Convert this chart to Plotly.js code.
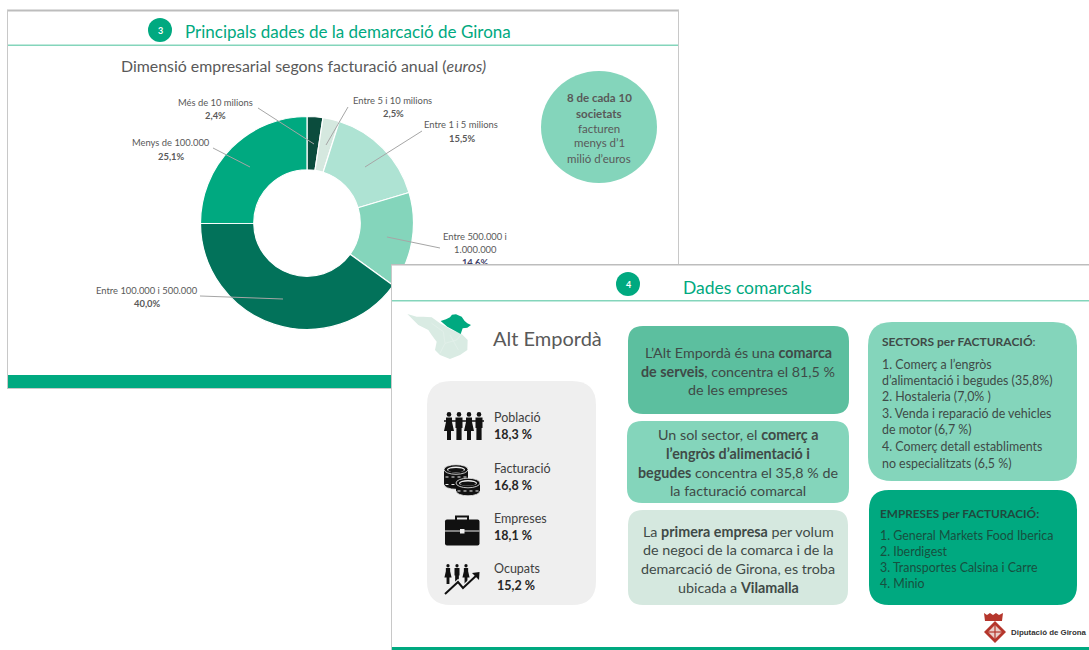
<!DOCTYPE html>
<html><head><meta charset="utf-8">
<script src="https://cdn.plot.ly/plotly-3.0.1.min.js"></script>
<style>html,body{margin:0;padding:0;background:#fff}#c{width:1089px;height:650px}</style></head>
<body><div id="c"></div>
<script>
// ---- data ----
const sliceLabels = ['Més de 10 milions','Entre 5 i 10 milions','Entre 1 i 5 milions','Entre 500.000 i 1.000.000','Entre 100.000 i 500.000','Menys de 100.000'];
const sliceValues = [2.4,2.5,15.5,14.6,40.0,25.1];
const sliceValueText = ['2,4%','2,5%','15,5%','14,6%','40,0%','25,1%'];
const sliceColors = ['#0b4c3d','#d5e8df','#aee3d3','#84d5bb','#02725a','#00a980'];
const statNames = ['Població','Facturació','Empreses','Ocupats'];
const statValues = ['18,3 %','16,8 %','18,1 %',' 15,2 %'];
const sectors = ['1. Comerç a l’engròs','d’alimentació i begudes (35,8%)','2. Hostaleria (7,0% )','3. Venda i reparació de vehicles','de motor (6,7 %)','4. Comerç detall establiments','no especialitzats (6,5 %)'];
const companies = ['1. General Markets Food Iberica','2. Iberdigest','3. Transportes Calsina i Carre','4. Minio'];

const W=1089,H=650,FONT='Lato, "Open Sans", sans-serif';
const px=x=>(x/W).toFixed(5), py=y=>(1-y/H).toFixed(5);
const GREEN='#00a980',MINT='#84d5bb',GREY='#595959';

// ---- helpers ----
const shapes=[],annotations=[];
function pathShape(d,fill,stroke,sw,dash){shapes.push({type:'path',xref:'paper',yref:'paper',path:d,fillcolor:fill||'rgba(0,0,0,0)',line:{color:stroke||'rgba(0,0,0,0)',width:sw||0,dash:dash||'solid'},layer:'above'});}
function M(x,y){return px(x)+','+py(y);}
function poly(pts,fill,stroke,sw,open,dash){pathShape('M'+pts.map(p=>M(p[0],p[1])).join(' L')+(open?'':' Z'),fill,stroke,sw,dash);}
function rect(x0,y0,x1,y1,fill){poly([[x0,y0],[x1,y0],[x1,y1],[x0,y1]],fill);}
function line(x0,y0,x1,y1,c,w){poly([[x0,y0],[x1,y1]],null,c,w,true);}
function rrect(x0,y0,x1,y1,r,fill){
  pathShape('M'+M(x0+r,y0)+' L'+M(x1-r,y0)+' Q'+M(x1,y0)+' '+M(x1,y0+r)+' L'+M(x1,y1-r)+' Q'+M(x1,y1)+' '+M(x1-r,y1)+' L'+M(x0+r,y1)+' Q'+M(x0,y1)+' '+M(x0,y1-r)+' L'+M(x0,y0+r)+' Q'+M(x0,y0)+' '+M(x0+r,y0)+' Z',fill);
}
function ell(cx,cy,rx,ry,fill,stroke,sw){shapes.push({type:'circle',xref:'paper',yref:'paper',x0:(cx-rx)/W,x1:(cx+rx)/W,y0:1-(cy+ry)/H,y1:1-(cy-ry)/H,fillcolor:fill,line:{color:stroke||'rgba(0,0,0,0)',width:sw||0},layer:'above'});}
function txt(x,y,t,size,anchor,color,family){annotations.push({xref:'paper',yref:'paper',x:x/W,y:1-y/H,text:t,showarrow:false,xanchor:anchor||'center',yanchor:'middle',align:anchor||'center',font:{size:size,color:color||GREY,family:family||FONT},borderpad:0,borderwidth:0});}

// ---- slide 3 frame (no fill: the doughnut lies below the shape layer) ----
rect(7,9.5,679,11.5,'#bdbdbd');
rect(7,10,8,388,'#c8c8c8');
rect(678,10,679,388,'#c8c8c8');
rect(7,388,679,389,'#c8c8c8');
rect(8,44.5,678,46,MINT);
rect(8,375,678,388,GREEN);
ell(160,30,12,12,GREEN);
txt(160,30.5,'<b>3</b>',9,'center','#ffffff');
txt(185,31,'Principals dades de la demarcació de Girona',17,'left',GREEN);
txt(121,65.5,'Dimensió empresarial segons facturació anual (<i>euros)</i>',15.9,'left',GREY);

// leader lines
[[258,108,314,144],[348,107,326,145],[422,131,365,167],[440,248,387,237],[200,296,283,299],[213,148,250,167]]
 .forEach(l=>line(l[0],l[1],l[2],l[3],'#a6a6a6',1));

// oval
ell(599,127,58,56,MINT);
[['<b>8 de cada 10</b>',97],['<b>societats</b>',113],['facturen',128],['menys d’1',143],['milió d’euros',158]]
 .forEach(a=>txt(599,a[1],a[0],11.5,'center',GREY));

// slice labels
const labelPos=[[215,103,215,116],[392,101,393,114],[461,125,462,138],[0,0,0,0],[147,291,147,304],[171,143,171,156]];
labelPos.forEach((p,i)=>{ if(i===3) return;
  txt(p[0],p[1],sliceLabels[i],9.4,'center',GREY);
  txt(p[2],p[3],'<b>'+sliceValueText[i]+'</b>',9.4,'center',GREY);
});
txt(475,236,'Entre 500.000 i',9.4,'center',GREY);
txt(475,249,'1.000.000',9.4,'center',GREY);
// this label is partly covered by slide 4, so it is a shape label drawn before the covering sheet
shapes.push({type:'rect',xref:'paper',yref:'paper',x0:455/W,x1:495/W,y0:1-268/H,y1:1-256/H,line:{width:0,color:'rgba(0,0,0,0)'},fillcolor:'rgba(0,0,0,0)',layer:'above',
  label:{text:'<b>'+sliceValueText[3]+'</b>',font:{size:9.4,color:'#3f3f6a',family:FONT},textposition:'middle center'}});

// ---- slide 4 frame ----
rect(391,265,1089,650,'#ffffff');
rect(391,264,1089,265.5,'#bdbdbd');
rect(391,265,392,650,'#c8c8c8');
rect(392,300,1089,301.5,MINT);
rect(392,647,1089,650,GREEN);
ell(628,284,12,12,GREEN);
txt(628,284.5,'<b>4</b>',9,'center','#ffffff');
txt(683,287,'Dades comarcals',17.5,'left',GREEN);

// map
const mp=(x,y)=>[390+x/3,260+y/3];
poly([[52,162],[80,170],[100,170],[125,172],[150,190],[165,198],[185,210],[215,222],[233,240],[232,270],[210,285],[180,297],[150,285],[135,270],[140,245],[125,225],[115,210],[85,195],[70,180]].map(p=>mp(p[0],p[1])),'#d9ebe3');
[[[125,190],[160,215],[165,250],[150,280]],[[165,250],[200,240],[215,222]],[[180,225],[205,270]]].forEach(l=>poly(l.map(p=>mp(p[0],p[1])),null,'#e6f2ec',0.6,true));
poly([[152,183],[168,178],[180,172],[186,164],[198,163],[215,170],[224,183],[232,190],[243,195],[232,203],[218,205],[212,222],[190,210],[172,200]].map(p=>mp(p[0],p[1])),GREEN);
txt(493,338,'Alt Empordà',20,'left',GREY);

// stats panel
rrect(427,381,596,605,24,'#efefef');
const statY=[417,468,518,568];
statNames.forEach((n,i)=>{
  txt(494,statY[i],n,12.5,'left','#404040');
  txt(494,statY[i]+17.5,'<b>'+statValues[i].trim()+'</b>',12.5,'left','#262626');
});
annotations[annotations.length-1].x=497/W;

// icons
const K='#111111';
function person(cx,top,h,skirt){
  const u=h/28;
  ell(cx,top+2.4*u,2.3*u,2.4*u,K);
  if(skirt){
    poly([[cx-3*u,top+5.5*u],[cx+3*u,top+5.5*u],[cx+3*u,top+10*u],[cx+5*u,top+19*u],[cx+2*u,top+19*u],[cx+2*u,top+28*u],[cx-2*u,top+28*u],[cx-2*u,top+19*u],[cx-5*u,top+19*u],[cx-3*u,top+10*u]],K);
  } else {
    poly([[cx-3.5*u,top+5.5*u],[cx+3.5*u,top+5.5*u],[cx+3.5*u,top+16*u],[cx+2.6*u,top+16*u],[cx+2.6*u,top+28*u],[cx-2.6*u,top+28*u],[cx-2.6*u,top+16*u],[cx-3.5*u,top+16*u]],K);
  }
}
[[449,1],[459,0],[469,1],[479,0]].forEach(p=>person(p[0],412,28,p[1]));
line(444,421,484,421,K,1.6);
// coin stacks
function coinStack(cx,cy,rx,ry,h,layers){
  ell(cx,cy+h,rx,ry,K,'#efefef',0.8);
  rect(cx-rx,cy,cx+rx,cy+h,K);
  for(let i=1;i<=layers;i++){ poly([[cx-rx+1.5,cy+i*h/layers],[cx+rx-1.5,cy+i*h/layers]],null,'#efefef',1,true,'dot'); }
  ell(cx,cy,rx,ry,K,'#efefef',0.8);
  ell(cx,cy,rx-3,ry-1.8,'#efefef');
  ell(cx,cy+0.6,rx-4,ry-2.6,K);
}
coinStack(456,469.5,12,4.8,15,2);
coinStack(468,483,12,4.8,8,1);
// briefcase
pathShape('M'+M(456,520)+' L'+M(456,516.5)+' L'+M(468,516.5)+' L'+M(468,520),null,K,2);
rrect(445,519.5,479.5,545.5,2,K);
rect(445,530.5,479.5,531.5,'#efefef');
rect(460,529,464.5,533.5,'#efefef');
// workers & arrow
[[448,1],[457,0],[466,1]].forEach(p=>person(p[0],564,20,p[1]));
poly([[445,594],[458,582],[463,588],[478,574]],null,'#efefef',4.5,true);
poly([[445,594],[458,582],[463,588],[478,574]],null,K,2,true);
poly([[479.5,572],[472,573],[479,580]],K);

// ---- text cards ----
rrect(628,326,849,414,15,'#5cbf9f');
rrect(627,421,849,503,15,MINT);
rrect(628,510,848,605,15,'#d5e8df');
rrect(868,322,1077,481,24,MINT);
rrect(869,490,1077,605,20,GREEN);
const C='#3f4a47',S=14.3;
[['L’Alt Empordà és una <b>comarca</b>',352],['<b>de serveis</b>, concentra el 81,5 %',371],['de les empreses',389],
 ['Un sol sector, el <b>comerç a</b>',434.5],['<b>l’engròs d’alimentació i</b>',453],['<b>begudes</b> concentra el 35,8 % de',472],['la facturació comarcal',490],
 ['La <b>primera empresa</b> per volum',531],['de negoci de la comarca i de la',549],['demarcació de Girona, es troba',568],['ubicada a <b>Vilamalla</b>',587]]
 .forEach(a=>txt(738,a[1],a[0],S,'center',C));
txt(882,341,'<b>SECTORS per FACTURACIÓ</b>:',12,'left',C);
const secY=[364,380,396,413,429,446,463];
sectors.forEach((t,i)=>txt(882,secY[i],t,12.4,'left',C));
txt(880,513,'<b>EMPRESES per FACTURACIÓ:</b>',11.8,'left','#1f4a3e');
const comY=[535,551,567,583];
companies.forEach((t,i)=>txt(880,comY[i],t,12.4,'left','#17503f'));

// logo
const R='#b5362c';
poly([[995,621],[1006,632],[995,643],[984,632]],R);
poly([[995,625],[1002,632],[995,639],[988,632]],'#e9cfc9');
line(995,625,995,639,R,1.2);
line(988,632,1002,632,R,1.2);
poly([[984,613],[987,615],[990,613],[993,615],[996,613],[999,615],[1003,613],[1002,621],[985,621]],R);
txt(1010.5,632,'<b>Diputació de Girona</b>',7.9,'left','#333333','"Liberation Sans", sans-serif');

// ---- chart ----
const cx=307,cy=223,r=106.5;
Plotly.newPlot('c',[{
  type:'pie',labels:sliceLabels,values:sliceValues,sort:false,direction:'clockwise',rotation:0,hole:0.5,
  marker:{colors:sliceColors,line:{color:'#ffffff',width:1.2}},textinfo:'none',hoverinfo:'skip',showlegend:false,
  domain:{x:[(cx-r)/W,(cx+r)/W],y:[1-(cy+r)/H,1-(cy-r)/H]}
}],{
  width:W,height:H,margin:{l:0,r:0,t:0,b:0,pad:0},paper_bgcolor:'rgba(0,0,0,0)',plot_bgcolor:'rgba(0,0,0,0)',
  showlegend:false,shapes:shapes,annotations:annotations,font:{family:FONT}
},{displayModeBar:false,staticPlot:true});
</script></body></html>
